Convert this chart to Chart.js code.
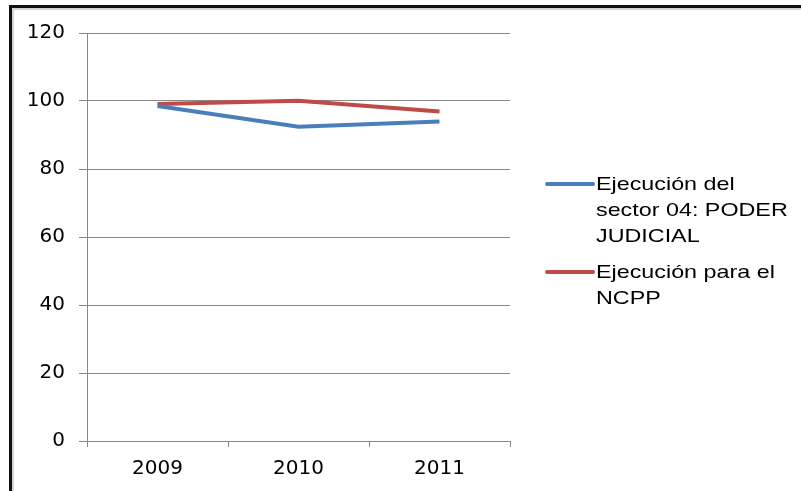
<!DOCTYPE html>
<html>
<head>
<meta charset="utf-8">
<script src="https://cdn.jsdelivr.net/npm/chart.js@4/dist/chart.umd.min.js"></script>
<style>
  html, body { margin: 0; padding: 0; background: #fff; }
  #wrap { position: relative; width: 801px; height: 491px; }
</style>
</head>
<body>
<div id="wrap"><canvas id="c" width="801" height="491"></canvas></div>
<script>
// Years on the horizontal axis
const years = ['2009', '2010', '2011'];
// Execution percentages per year
const poderJudicial = [98.5, 92.4, 94.0];
const ncpp = [99.1, 100.1, 96.9];
// Legend wording (wrapped into lines)
const legendPoder = ['Ejecución del', 'sector 04: PODER', 'JUDICIAL'];
const legendNcpp = ['Ejecución para el', 'NCPP'];
// Value axis ticks
const yTicks = [0, 20, 40, 60, 80, 100, 120];

const FONT = '"Liberation Sans", Arial, sans-serif';
const TICK_FONT = '"DejaVu Sans", sans-serif';
const AXIS = '#888888';

// Frame lines along the top and left edges
const framePlugin = {
  id: 'frame',
  beforeDraw(chart) {
    const ctx = chart.ctx;
    ctx.save();
    ctx.fillStyle = '#ffffff';
    ctx.fillRect(0, 0, chart.width, chart.height);
    ctx.fillStyle = '#d4d4d4';
    ctx.fillRect(12, 8, chart.width - 12, 2);
    ctx.fillRect(12, 8, 2, chart.height - 8);
    ctx.fillStyle = '#111111';
    ctx.fillRect(9, 5, chart.width - 9, 3);
    ctx.fillRect(9, 5, 3, chart.height - 5);
    ctx.restore();
  }
};

// Legend on the right with wrapped, slightly widened labels
const sideLegend = {
  id: 'sideLegend',
  afterDraw(chart) {
    const ctx = chart.ctx;
    const items = [
      { lines: legendPoder, color: chart.data.datasets[0].borderColor, top: 185 },
      { lines: legendNcpp, color: chart.data.datasets[1].borderColor, top: 273 }
    ];
    ctx.save();
    ctx.textBaseline = 'middle';
    ctx.fillStyle = '#000';
    items.forEach(it => {
      ctx.strokeStyle = it.color;
      ctx.lineWidth = 4;
      ctx.lineCap = 'round';
      ctx.beginPath();
      ctx.moveTo(547, it.top - 1);
      ctx.lineTo(593, it.top - 1);
      ctx.stroke();
      it.lines.forEach((t, i) => {
        ctx.save();
        ctx.translate(596, it.top + i * 26);
        ctx.scale(1.26, 1);
        ctx.font = '18.5px ' + FONT;
        ctx.fillText(t, 0, 0);
        ctx.restore();
      });
    });
    ctx.restore();
  }
};

new Chart(document.getElementById('c'), {
  type: 'line',
  data: {
    labels: years,
    datasets: [
      { label: legendPoder.join(' '), data: poderJudicial, borderColor: '#4a7ebb', borderWidth: 4, pointRadius: 0, tension: 0 },
      { label: legendNcpp.join(' '), data: ncpp, borderColor: '#be4b48', borderWidth: 4, pointRadius: 0, tension: 0 }
    ]
  },
  options: {
    responsive: false,
    animation: false,
    layout: { padding: { left: 15, top: 33, right: 291, bottom: 0 } },
    plugins: { legend: { display: false }, tooltip: { enabled: false } },
    scales: {
      x: {
        offset: true,
        afterFit(s) { s.height = 50; },
        grid: { offset: true, drawOnChartArea: false, drawTicks: true, tickLength: 6, color: AXIS },
        border: { color: AXIS, width: 1 },
        ticks: { color: '#000', font: { family: TICK_FONT, size: 20 }, padding: 10 }
      },
      y: {
        min: 0, max: 120,
        afterFit(s) { s.width = 72; },
        afterBuildTicks(s) { s.ticks = yTicks.map(v => ({ value: v })); },
        grid: { color: AXIS, tickLength: 8, lineWidth: 1 },
        border: { color: AXIS, width: 1 },
        ticks: { color: '#000', font: { family: TICK_FONT, size: 20 }, padding: 14 }
      }
    }
  },
  plugins: [framePlugin, sideLegend]
});
</script>
</body>
</html>
